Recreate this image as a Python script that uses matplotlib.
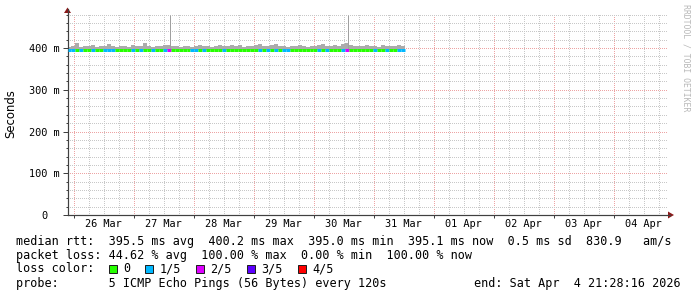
import matplotlib
matplotlib.use("Agg")
import matplotlib.pyplot as plt
from matplotlib.patches import Rectangle, Polygon
from matplotlib.lines import Line2D
import numpy as np

# ---------------- data ----------------
# time axis in hours from 26 Mar 00:00
view_start = -2.53
view_end = 237.47            # Sat Apr 4 21:28:16
data_start = -2.53
bin_hours = 1.587

day_ticks = [0, 24, 48, 72, 96, 120, 144, 168, 192, 216]
day_label_pos = [12, 36, 60, 84, 108, 132, 156, 180, 204, 228]
day_labels = ["26 Mar", "27 Mar", "28 Mar", "29 Mar", "30 Mar",
              "31 Mar", "01 Apr", "02 Apr", "03 Apr", "04 Apr"]

y_ticks = [0, 100, 200, 300, 400]
y_labels = ["0  ", "100 m", "200 m", "300 m", "400 m"]

# median rtt per bin (ms)
median = [395.6, 395.4, 395.5, 395.3, 395.6, 395.5, 395.4, 395.6, 395.5, 395.3,
          395.5, 395.4, 395.6, 395.5, 395.4, 395.5, 395.6, 395.4, 395.5, 395.6,
          395.4, 395.5, 395.3, 395.5, 395.6, 395.4, 395.5, 395.4, 395.6, 395.5,
          395.4, 395.5, 395.6, 395.4, 395.5, 395.3, 395.5, 395.6, 395.4, 395.5,
          395.5, 395.4, 395.6, 395.5, 395.4, 395.5, 395.6, 395.4, 395.5, 395.3,
          395.5, 395.6, 395.4, 395.5, 395.5, 395.4, 395.6, 395.5, 395.4, 395.5,
          395.6, 395.4, 395.5, 395.3, 395.5, 395.6, 395.4, 395.5, 395.5, 395.4,
          395.6, 395.5, 395.4, 395.5, 395.6, 395.4, 395.5, 395.3, 395.5, 395.6,
          395.4, 395.5, 395.5, 395.4, 395.1]

# highest ping per bin (ms) - top of the smoke
smoke_top = [402, 404, 411, 403, 405, 404, 406, 403, 405, 404,
             410, 404, 403, 405, 404, 403, 406, 404, 405, 411,
             404, 403, 405, 404, 406, 407, 404, 405, 403, 404,
             405, 403, 404, 406, 405, 404, 403, 405, 407, 404,
             405, 406, 404, 408, 403, 405, 404, 406, 409, 405,
             404, 406, 410, 404, 405, 403, 404, 405, 406, 404,
             403, 405, 404, 406, 410, 405, 404, 407, 405, 409,
             411, 406, 404, 405, 404, 406, 404, 405, 403, 406,
             404, 405, 404, 406, 405]

# lost pings (out of 5) per bin
loss = [1, 1, 0, 1, 0, 0, 1, 0, 0, 1,
        1, 1, 0, 0, 0, 0, 1, 0, 1, 0,
        0, 1, 0, 0, 1, 2, 0, 0, 0, 0,
        0, 1, 1, 0, 1, 0, 0, 0, 0, 1,
        0, 0, 0, 0, 0, 0, 0, 0, 1, 0,
        1, 0, 1, 0, 1, 1, 0, 0, 0, 0,
        0, 0, 0, 1, 0, 1, 0, 0, 0, 1,
        2, 0, 0, 0, 0, 0, 0, 1, 0, 0,
        1, 0, 0, 1, 1]

spike_t = [38.4, 109.6]
spike_top = [480, 480]

loss_colors = ["#26ff00", "#00b8ff", "#dd00ff", "#5c00ff", "#ff0000"]
loss_names = ["0", "1/5", "2/5", "3/5", "4/5"]

legend_lines = [
    "median rtt:  395.5 ms avg  400.2 ms max  395.0 ms min  395.1 ms now  0.5 ms sd  830.9   am/s",
    "packet loss: 44.62 % avg  100.00 % max  0.00 % min  100.00 % now",
    "loss color:",
    "probe:       5 ICMP Echo Pings (56 Bytes) every 120s",
]
end_text = "end: Sat Apr  4 21:28:16 2026"

# ---------------- figure ----------------
W, H = 697, 297
fig = plt.figure(figsize=(W / 100, H / 100), dpi=100)
fig.patch.set_facecolor("white")
PT = 0.72  # points per pixel


def fx(px):
    return px / W


def fy(py):
    return 1 - py / H


MONO = "DejaVu Sans Mono"
FS = 8.5
x0, x1 = 67.5, 667.5
yb = 215.0
ymax = 482
ppm = 0.4175
yt = yb - ymax * ppm
ax = fig.add_axes([fx(x0), fy(yb), (x1 - x0) / W, (yb - yt) / H])
ax.set_xlim(view_start, view_end)
ax.set_ylim(0, ymax)
ax.set_facecolor("white")

# grid
ax.set_xticks(day_ticks)
ax.set_xticks(np.arange(0, 238, 6), minor=True)
ax.set_yticks(y_ticks)
ax.set_yticklabels(y_labels)
ax.set_yticks(np.arange(0, 481, 20), minor=True)
ax.grid(which="major", color="#eda4a4", ls=(0.5, (1, 1)), lw=PT)
ax.grid(which="minor", color="#c8c8c8", ls=(0.5, (1, 1)), lw=PT)
ax.set_axisbelow(True)

for s in ["top", "right"]:
    ax.spines[s].set_visible(False)
for s in ["left", "bottom"]:
    ax.spines[s].set_color("#404040")
    ax.spines[s].set_linewidth(PT * 1.2)

ax.tick_params(axis="x", which="major", direction="out", length=3 * PT,
               width=PT, color="#404040", labelbottom=False)
ax.tick_params(axis="x", which="minor", length=0)
ax.tick_params(axis="y", which="major", direction="out", length=5 * PT,
               width=PT, color="#404040", pad=2.5 * PT, labelsize=7.4)
ax.tick_params(axis="y", which="minor", direction="out", length=2 * PT,
               width=PT, color="#404040")
for lab in ax.get_yticklabels():
    lab.set_family(MONO)

sec = ax.secondary_xaxis("bottom")
sec.set_xticks(day_label_pos)
sec.set_xticklabels(day_labels)
sec.tick_params(length=0, pad=4 * PT, labelsize=7.4)
sec.spines["bottom"].set_visible(False)
for lab in sec.get_xticklabels():
    lab.set_family(MONO)

# smoke
n = len(median)
edges = data_start + bin_hours * np.arange(n + 1)
med = np.array(median)
top = np.array(smoke_top)
ax.fill_between(edges, np.append(med, med[-1]), np.append(top, top[-1]),
                step="post", color="#ababab", lw=0, zorder=2)
med_at_spike = np.interp(spike_t, edges[:-1], med)
ax.vlines(spike_t, med_at_spike, spike_top, color="#a0a0a0", lw=PT, zorder=2)
# median line coloured by loss
ax.hlines(med, edges[:-1], edges[1:], colors=[loss_colors[l] for l in loss],
          lw=3 * PT, zorder=3)

# axis extensions and arrows
arrow_c = "#8b1a1a"
fig.add_artist(Line2D([fx(x0), fx(x0)], [fy(yt), fy(9)], color="#404040", lw=PT * 1.2))
fig.add_artist(Polygon([[fx(x0 - 3.5), fy(13)], [fx(x0 + 3.5), fy(13)], [fx(x0), fy(7.5)]],
                       closed=True, color=arrow_c, lw=0))
fig.add_artist(Line2D([fx(x1), fx(670)], [fy(yb), fy(yb)], color="#404040", lw=PT * 1.2))
fig.add_artist(Polygon([[fx(668), fy(yb - 3.5)], [fx(668), fy(yb + 3.5)], [fx(674), fy(yb)]],
                       closed=True, color=arrow_c, lw=0))

# y label
fig.text(fx(11), fy(114), "Seconds", rotation=90, ha="center", va="center",
         fontsize=8.4, family="DejaVu Sans")

# watermark
fig.text(fx(686), fy(4), "RRDTOOL / TOBI OETIKER", rotation=270, ha="center",
         va="top", fontsize=5.9, family=MONO, color="#b8b8b8")

# legend text
ys = [241, 255, 269, 283]
for yy, line in zip(ys, legend_lines):
    fig.text(fx(15.5), fy(yy), line, ha="left", va="center", fontsize=FS, family=MONO)
fig.text(fx(681), fy(283), end_text, ha="right", va="center", fontsize=FS, family=MONO)

box_x = [108.5, 145.3, 196.0, 247.0, 297.7]
lab_x = [122.8, 159.5, 210.5, 261.5, 312.5]
for bx, lx, c, name in zip(box_x, lab_x, loss_colors, loss_names):
    fig.add_artist(Rectangle((fx(bx), fy(272.5)), 8 / W, 8 / H, facecolor=c,
                             edgecolor="#202020", lw=PT))
    fig.text(fx(lx), fy(269), name, ha="left", va="center", fontsize=FS, family=MONO)

fig.savefig("out.png", dpi=100, facecolor="white")
